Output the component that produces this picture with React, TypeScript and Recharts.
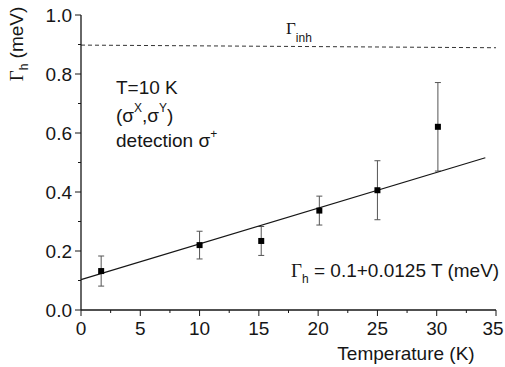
import React from "react";
import { ScatterChart, Scatter, XAxis, YAxis, ErrorBar, ReferenceLine } from "recharts";

// measured points: temperature (K), homogeneous width (meV), error (meV)
const TEMPS = [1.7, 10.0, 15.2, 20.1, 25.0, 30.1];
const GAMMA_H = [0.132, 0.22, 0.234, 0.337, 0.406, 0.621];
const GAMMA_ERR = [0.051, 0.047, 0.049, 0.049, 0.1, 0.15];

// linear fit endpoints
const FIT_T = [0, 34.1];
const FIT_G = [0.103, 0.516];

// inhomogeneous width (dashed line)
const INH_T = [0, 35];
const INH_G = [0.898, 0.889];

const X_TICKS = [0, 5, 10, 15, 20, 25, 30, 35];
const X_MINOR = [2.5, 7.5, 12.5, 17.5, 22.5, 27.5, 32.5];
const Y_TICKS = [0, 0.2, 0.4, 0.6, 0.8, 1.0];
const Y_MINOR = [0.1, 0.3, 0.5, 0.7, 0.9];

const points = TEMPS.map((t, i) => ({ t, g: GAMMA_H[i], err: GAMMA_ERR[i] }));
const fit = FIT_T.map((t, i) => ({ t, g: FIT_G[i] }));

const FONT = "'Liberation Sans', Arial, sans-serif";
const INK = "#161616";

const XTick = (props: any) => {
  const { x, y, payload } = props;
  const major = X_TICKS.includes(payload.value);
  // last label sits against the right edge, so nudge it in
  const last = payload.value === X_TICKS[X_TICKS.length - 1];
  return (
    <g>
      <line x1={x} x2={x} y1={y} y2={y + (major ? 6 : 3)} stroke={INK} strokeWidth={1} />
      {major && (
        <text x={last ? x - 3 : x} y={y + 25} textAnchor="middle" fontSize={19} fontFamily={FONT} fill={INK}>
          {payload.value}
        </text>
      )}
    </g>
  );
};

const YTick = (props: any) => {
  const { x, y, payload } = props;
  const major = Y_TICKS.includes(payload.value);
  return (
    <g>
      <line x1={x - (major ? 6 : 3)} x2={x} y1={y} y2={y} stroke={INK} strokeWidth={1} />
      {major && (
        <text x={x - 9} y={y + 7} textAnchor="end" fontSize={19} fontFamily={FONT} fill={INK}>
          {payload.value.toFixed(1)}
        </text>
      )}
    </g>
  );
};

const Square = (props: any) => (
  <rect x={props.cx - 3} y={props.cy - 3} width={6} height={6} fill="#000" />
);

export default function App() {
  return (
    <div style={{ position: "absolute", left: 0, top: 0, background: "#fff" }}>
      <ScatterChart width={505} height={367} margin={{ top: 15, right: 9, bottom: 0, left: 0 }}>
        <XAxis
          type="number"
          dataKey="t"
          domain={[0, 35]}
          ticks={[...X_TICKS, ...X_MINOR].sort((a, b) => a - b)}
          interval={0}
          tickSize={0}
          tickMargin={0}
          tickLine={false}
          tick={<XTick />}
          height={57}
          stroke={INK}
          strokeWidth={1.3}
        />
        <YAxis
          type="number"
          dataKey="g"
          domain={[0, 1]}
          ticks={[...Y_TICKS, ...Y_MINOR].sort((a, b) => a - b)}
          interval={0}
          tickSize={0}
          tickMargin={0}
          tickLine={false}
          tick={<YTick />}
          width={81}
          stroke={INK}
          strokeWidth={1.3}
        />
        <ReferenceLine
          segment={[
            { x: INH_T[0], y: INH_G[0] },
            { x: INH_T[1], y: INH_G[1] },
          ]}
          stroke="#333"
          strokeDasharray="4 3"
          strokeWidth={1}
        />
        <Scatter
          data={fit}
          line={{ stroke: INK, strokeWidth: 1.2 }}
          shape={() => <g />}
          isAnimationActive={false}
        />
        <Scatter data={points} shape={<Square />} isAnimationActive={false}>
          <ErrorBar dataKey="err" direction="y" width={3} stroke="#555" strokeWidth={1} />
        </Scatter>

        <text transform="translate(23,44) rotate(-90)" textAnchor="middle" fontSize={19} fontFamily={FONT} fill={INK}>
          <tspan fontFamily="'Liberation Serif', serif">Γ</tspan>
          <tspan fontSize={12} dy={5}>h</tspan>
          <tspan dy={-5}> (meV)</tspan>
        </text>
        <text x={406} y={360} textAnchor="middle" fontSize={19} fontFamily={FONT} fill={INK}>
          Temperature (K)
        </text>
        <text x={286} y={34} fontSize={17} fontFamily={FONT} fill={INK}>
          <tspan fontFamily="'Liberation Serif', serif">Γ</tspan>
          <tspan fontSize={12} dy={8}>inh</tspan>
        </text>
        <text x={116} y={94} fontSize={19} fontFamily={FONT} fill={INK}>
          T=10 K
        </text>
        <text x={116} y={122} fontSize={19} fontFamily={FONT} fill={INK}>
          <tspan>(σ</tspan>
          <tspan fontSize={12} dy={-10}>X</tspan>
          <tspan dy={10}>,σ</tspan>
          <tspan fontSize={12} dy={-10}>Y</tspan>
          <tspan dy={10}>)</tspan>
        </text>
        <text x={116} y={147} fontSize={19} fontFamily={FONT} fill={INK}>
          <tspan>detection σ</tspan>
          <tspan fontSize={12} dy={-9}>+</tspan>
        </text>
        <text x={291} y={277} fontSize={19} fontFamily={FONT} fill={INK}>
          <tspan fontFamily="'Liberation Serif', serif">Γ</tspan>
          <tspan fontSize={12} dy={6}>h</tspan>
          <tspan dy={-6}> = 0.1+0.0125 T (meV)</tspan>
        </text>
      </ScatterChart>
    </div>
  );
}
